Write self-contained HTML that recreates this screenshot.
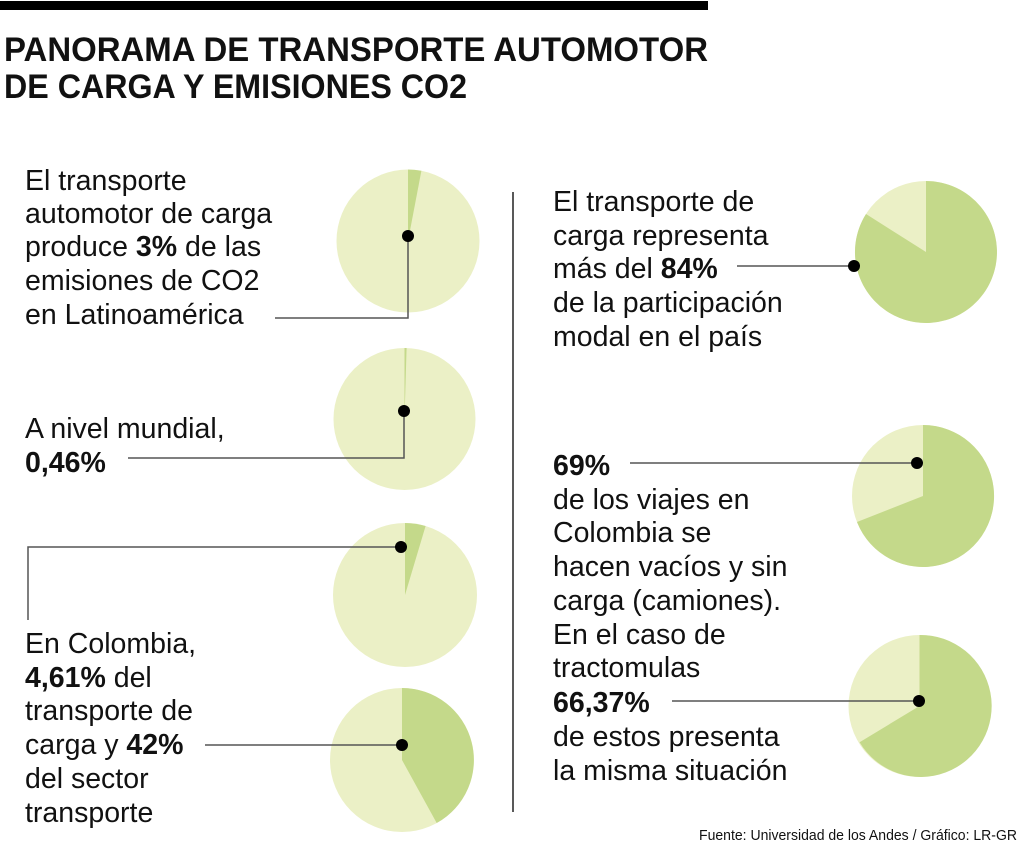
<!DOCTYPE html>
<html><head><meta charset="utf-8"><style>
body{margin:0;background:#fff;}
svg text{font-family:"Liberation Sans",sans-serif;fill:#111;}
.b{font-size:28.5px;}
</style></head><body>
<svg width="1024" height="853" viewBox="0 0 1024 853" xmlns="http://www.w3.org/2000/svg">
<rect x="0" y="1" width="708" height="9" fill="#000"/>
<text x="4" y="61" font-size="34" font-weight="bold" textLength="704" lengthAdjust="spacingAndGlyphs">PANORAMA DE TRANSPORTE AUTOMOTOR</text>
<text x="4" y="98" font-size="34" font-weight="bold" textLength="463" lengthAdjust="spacingAndGlyphs">DE CARGA Y EMISIONES CO2</text>
<line x1="513" y1="192" x2="513" y2="812" stroke="#222" stroke-width="1.5"/>
<g fill="#ebf0c6">
<circle cx="408" cy="241" r="71.5"/><circle cx="404.5" cy="419" r="71"/><circle cx="405" cy="595" r="72"/><circle cx="402" cy="760" r="72"/>
<circle cx="926" cy="252" r="71"/><circle cx="923" cy="496" r="71"/><circle cx="919.5" cy="706" r="71"/>
</g>
<g fill="#c4d98a">
<path d="M408 241 L408 169.5 A71.5 71.5 0 0 1 421.4 170.8 Z"/>
<path d="M404.5 419 L404.5 348 A71 71 0 0 1 406.6 348 Z"/>
<path d="M405 595 L405 523 A72 72 0 0 1 425.6 526 Z"/>
<path d="M402 760 L402 688 A72 72 0 0 1 436.7 823 Z"/>
<path d="M926 252 L866 214 A71 71 0 1 0 926 181 Z"/>
<path d="M923 496 L923 425 A71 71 0 1 1 857 522 Z"/>
<path d="M919.5 706 L919.5 635 A71 71 0 1 1 859.6 742.2 Z"/>
</g>
<g stroke="#555" stroke-width="1.5" fill="none">
<polyline points="408,236 408,318 275,318"/>
<polyline points="404,411 404,458 128,458"/>
<polyline points="401,547 28,547 28,620"/>
<polyline points="402,745 205,745"/>
<polyline points="854,266 737,266"/>
<polyline points="917,463 630,463"/>
<polyline points="919,701 672,701"/>
</g>
<g fill="#000">
<circle cx="408" cy="236" r="6"/><circle cx="404" cy="411" r="6"/><circle cx="401" cy="547" r="6"/><circle cx="402" cy="745" r="6"/>
<circle cx="854" cy="266" r="6"/><circle cx="917" cy="463" r="6"/><circle cx="919" cy="701" r="6"/>
</g>
<g class="b">
<text x="25" y="190">El transporte</text>
<text x="25" y="223">automotor de carga</text>
<text x="25" y="256">produce <tspan font-weight="bold">3%</tspan> de las</text>
<text x="25" y="290">emisiones de CO2</text>
<text x="25" y="324">en Latinoamérica</text>
<text x="25" y="438">A nivel mundial,</text>
<text x="25" y="472" font-weight="bold">0,46%</text>
<text x="25" y="653">En Colombia,</text>
<text x="25" y="687"><tspan font-weight="bold">4,61%</tspan> del</text>
<text x="25" y="720">transporte de</text>
<text x="25" y="754">carga y <tspan font-weight="bold">42%</tspan></text>
<text x="25" y="788">del sector</text>
<text x="25" y="822">transporte</text>
<text x="553" y="211">El transporte de</text>
<text x="553" y="245">carga representa</text>
<text x="553" y="278">más del <tspan font-weight="bold">84%</tspan></text>
<text x="553" y="312">de la participación</text>
<text x="553" y="346">modal en el país</text>
<text x="553" y="475" font-weight="bold">69%</text>
<text x="553" y="509">de los viajes en</text>
<text x="553" y="542">Colombia se</text>
<text x="553" y="576">hacen vacíos y sin</text>
<text x="553" y="610">carga (camiones).</text>
<text x="553" y="644">En el caso de</text>
<text x="553" y="677">tractomulas</text>
<text x="553" y="712" font-weight="bold">66,37%</text>
<text x="553" y="746">de estos presenta</text>
<text x="553" y="780">la misma situación</text>
</g>
<text x="1017" y="840" font-size="15" text-anchor="end" textLength="318" lengthAdjust="spacingAndGlyphs">Fuente: Universidad de los Andes / Gráfico: LR-GR</text>
</svg>
</body></html>
